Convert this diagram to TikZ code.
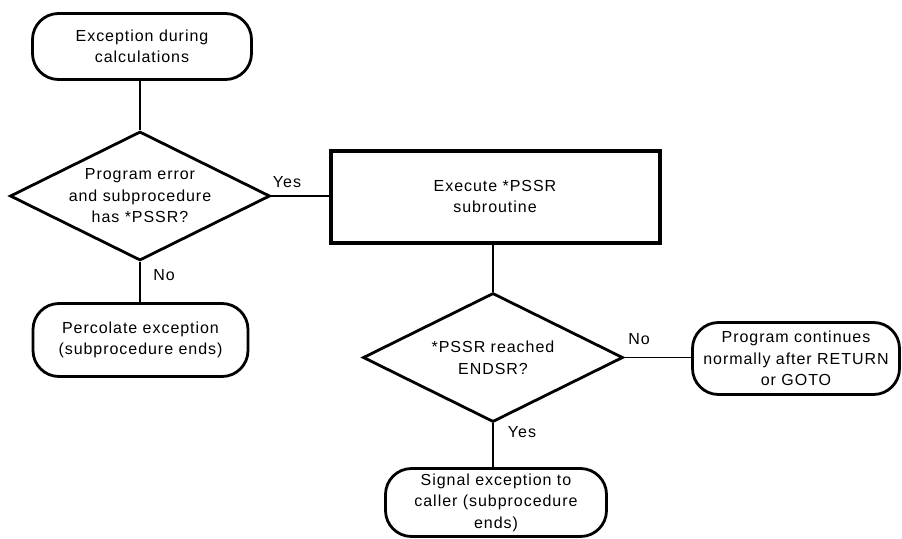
\documentclass[tikz,border=0pt]{standalone}
\usepackage{fontspec}
\setmainfont{Liberation Sans}[LetterSpace=6]
\usetikzlibrary{shapes.geometric}
\tikzset{
  every node/.style={font=\fontsize{16}{21.5}\selectfont},
  terminal/.style={draw, line width=2.8pt, rounded corners=26pt, align=center, inner sep=0pt},
  process/.style={draw, line width=4pt, align=center, inner sep=0pt},
  decision/.style={draw, diamond, line width=2.8pt, inner sep=0pt},
  dtext/.style={align=center, inner sep=0pt},
  conn/.style={line width=1.1pt},
  lbl/.style={inner sep=0pt}
}
\begin{document}
\begin{tikzpicture}[x=1pt,y=-1pt]
\useasboundingbox (0,0) rectangle (902,538);
% nodes
\node[terminal, minimum width=219pt, minimum height=66pt] (t1) at (142,46.5) {Exception during\\calculations};
\node[decision, minimum width=260pt, minimum height=129pt] (d1) at (140,196) {};
\node[dtext] (d1t) at (140,196) {Program error\\and subprocedure\\has *PSSR?};
\node[terminal, minimum width=215pt, minimum height=73pt] (t2) at (140.5,340) {Percolate exception\\(subprocedure ends)};
\node[process, minimum width=329pt, minimum height=92pt] (r) at (495,196.5) {Execute *PSSR\\subroutine};
\node[decision, minimum width=260pt, minimum height=129pt] (d2) at (493,357.5) {};
\node[dtext] (d2t) at (493,358) {*PSSR reached\\ENDSR?};
\node[terminal, minimum width=207pt, minimum height=72pt] (t3) at (796,358.5) {Program continues\\normally after RETURN\\or GOTO};
\node[terminal, minimum width=221pt, minimum height=68pt] (t4) at (496,502.5) {Signal exception to\\caller (subprocedure\\ends)};
% connectors
\draw[conn] (t1.south -| d1.north) -- (d1.north);
\draw[conn] (d1.east) -- (d1.east -| r.west);
\draw[conn] (d1.south) -- (d1.south |- t2.north);
\draw[conn] (r.south -| d2.north) -- (d2.north);
\draw[conn] (d2.east) -- (d2.east -| t3.west);
\draw[conn] (d2.south) -- (d2.south |- t4.north);
% labels
\node[lbl] (yes1) at (287,182) {Yes};
\node[lbl] (no1) at (164,275) {No};
\node[lbl] (no2) at (639,339) {No};
\node[lbl] (yes2) at (522,432) {Yes};
\end{tikzpicture}
\end{document}
